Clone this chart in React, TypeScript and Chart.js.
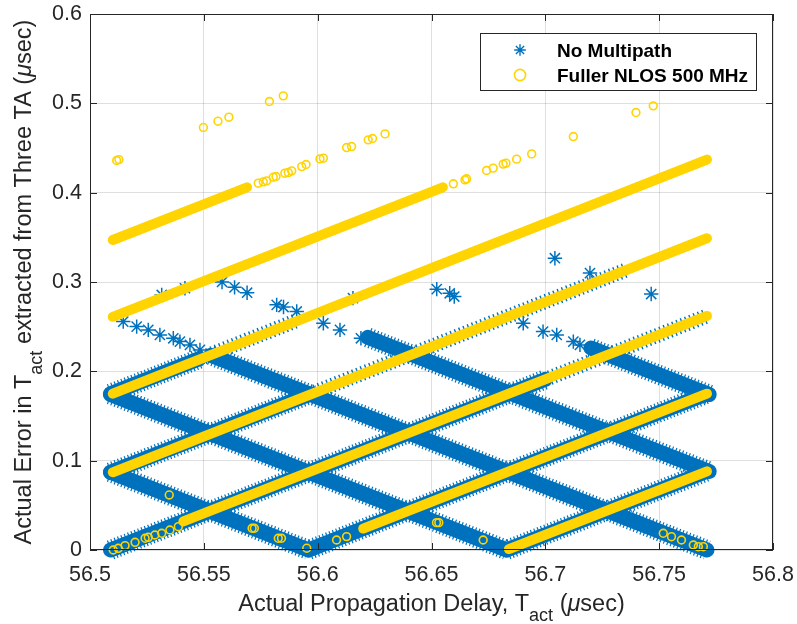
import React, { useEffect, useRef } from "react";
import { Chart, registerables } from "chart.js";

Chart.register(...registerables);

const BLUE = "#0072BD";
const GOLD = "#FFD400";
const INK = "#262626";
const FONT = '"Liberation Sans", Arial, Helvetica, sans-serif';

// Axis ticks
const xTickValues = [56.5, 56.55, 56.6, 56.65, 56.7, 56.75, 56.8];
const xTickLabels = ["56.5", "56.55", "56.6", "56.65", "56.7", "56.75", "56.8"];
const yTickValues = [0, 0.1, 0.2, 0.3, 0.4, 0.5, 0.6];
const yTickLabels = ["0", "0.1", "0.2", "0.3", "0.4", "0.5", "0.6"];

// A band of densely packed markers: [xStart, yStart, xEnd, yEnd]
type Band = [number, number, number, number];

// No Multipath — dense bands of error samples
const noMultipathBands: Band[] = [
  [56.509, 0.087, 56.596, 0.0],
  [56.509, 0.174, 56.683, 0.0],
  [56.553, 0.218, 56.771, 0.0],
  [56.622, 0.238, 56.772, 0.088],
  [56.72, 0.226, 56.772, 0.174],
  [56.509, 0.0, 56.7, 0.191],
  [56.596, 0.0, 56.771, 0.175],
  [56.683, 0.0, 56.771, 0.088],
  [56.509, 0.087, 56.597, 0.175],
  [56.509, 0.175, 56.548, 0.214],
];

// No Multipath — loosely packed bands
const noMultipathLooseBands: Band[] = [
  [56.7, 0.191, 56.771, 0.262],
  [56.597, 0.175, 56.735, 0.313],
  [56.548, 0.214, 56.59, 0.256],
];

// No Multipath — isolated samples
const noMultipathX = [
  56.5146, 56.5205, 56.5256, 56.5307, 56.5366, 56.5395, 56.5439, 56.5483,
  56.558, 56.5635, 56.569, 56.582, 56.585, 56.5908, 56.6025, 56.6098, 56.619,
  56.6523, 56.658, 56.66, 56.6903, 56.699, 56.705, 56.7123, 56.7152,
  56.5315, 56.5417, 56.6155, 56.7042, 56.7196, 56.7465,
];
const noMultipathY = [
  0.2557, 0.2501, 0.2464, 0.2408, 0.237, 0.2333, 0.2296, 0.224,
  0.3, 0.294, 0.288, 0.2744, 0.272, 0.267, 0.2538, 0.2464, 0.237,
  0.292, 0.2874, 0.2837, 0.2538, 0.2445, 0.2408, 0.2333, 0.2296,
  0.2855, 0.293, 0.282, 0.3266, 0.31, 0.2865,
];

// Fuller NLOS 500 MHz — dense bands
const fullerBands: Band[] = [
  [56.51, 0.347, 56.569, 0.406],
  [56.51, 0.261, 56.655, 0.406],
  [56.51, 0.175, 56.771, 0.437],
  [56.51, 0.087, 56.771, 0.349],
  [56.541, 0.032, 56.771, 0.262],
  [56.62, 0.024, 56.771, 0.175],
  [56.684, 0.001, 56.771, 0.088],
];

// Fuller NLOS 500 MHz — upper isolated samples
const fullerUpperX = [
  56.5117, 56.5127, 56.5498, 56.5562, 56.561, 56.5788, 56.5849,
  56.5739, 56.5761, 56.5776, 56.5805, 56.5817, 56.5856, 56.5871, 56.5886,
  56.593, 56.5949, 56.601, 56.6025, 56.6127, 56.6149, 56.6222, 56.6241, 56.6296,
  56.6596, 56.6647, 56.6654, 56.6742, 56.6771, 56.6815, 56.6827, 56.6874,
  56.694, 56.7123, 56.7398, 56.7474,
];
const fullerUpperY = [
  0.436, 0.437, 0.473, 0.48, 0.4845, 0.502, 0.5084,
  0.4106, 0.4121, 0.4132, 0.4173, 0.4181, 0.4218, 0.4225, 0.4244,
  0.4292, 0.4315, 0.4378, 0.4386, 0.4505, 0.4516, 0.4591, 0.4606, 0.4658,
  0.4099, 0.4143, 0.4155, 0.4248, 0.4275, 0.432, 0.433, 0.4375,
  0.4434, 0.4628, 0.4897, 0.4972,
];

// Fuller NLOS 500 MHz — lower isolated samples
const fullerLowerX = [
  56.5102, 56.5124, 56.5154, 56.5198, 56.5242, 56.5256, 56.5285, 56.5315,
  56.5351, 56.5388, 56.5952, 56.6083, 56.6127,
  56.5348, 56.5712, 56.5722, 56.5827, 56.5841, 56.6522, 56.6532, 56.6727,
  56.7518, 56.7554, 56.7598, 56.765, 56.7672, 56.7694,
];
const fullerLowerY = [
  0.0, 0.0019, 0.0049, 0.0086, 0.0131, 0.0142, 0.0168, 0.0187,
  0.0224, 0.0261, 0.002, 0.0112, 0.015,
  0.0616, 0.0243, 0.0243, 0.0131, 0.0131, 0.0306, 0.0306, 0.0112,
  0.0187, 0.0149, 0.0112, 0.0056, 0.0037, 0.0037,
];

const pts = (xs: number[], ys: number[]) => xs.map((x, i) => ({ x, y: ys[i] }));

const bandSet = (
  b: Band,
  color: string,
  width: number,
  order: number,
  dash: number[] = [],
  cap: string = "round"
) => ({
  data: [
    { x: b[0], y: b[1] },
    { x: b[2], y: b[3] },
  ],
  showLine: true,
  borderColor: color,
  borderWidth: width,
  borderCapStyle: cap,
  borderJoinStyle: "round",
  borderDash: dash,
  pointRadius: 0,
  pointHoverRadius: 0,
  clip: false,
  order,
});

type Part = { t: string; sub?: boolean; it?: boolean };

function drawRich(ctx: CanvasRenderingContext2D, parts: Part[], cx: number, baseline: number) {
  const fontOf = (p: Part) => `${p.it ? "italic " : ""}${p.sub ? 18 : 23.5}px ${FONT}`;
  let total = 0;
  const widths = parts.map((p) => {
    ctx.font = fontOf(p);
    const w = ctx.measureText(p.t).width;
    total += w;
    return w;
  });
  let x = cx - total / 2;
  ctx.textAlign = "left";
  ctx.textBaseline = "alphabetic";
  parts.forEach((p, i) => {
    ctx.font = fontOf(p);
    ctx.fillText(p.t, x, baseline + (p.sub ? 10.5 : 0));
    x += widths[i];
  });
}

const xTitle: Part[] = [
  { t: "Actual Propagation Delay, T" },
  { t: "act", sub: true },
  { t: " (" },
  { t: "\u03bc", it: true },
  { t: "sec)" },
];
const yTitle: Part[] = [
  { t: "Actual Error in T" },
  { t: "act", sub: true },
  { t: " extracted from Three TA (" },
  { t: "\u03bc", it: true },
  { t: "sec)" },
];

const framePlugin = {
  id: "frameAndTitles",
  afterDraw(chart: any) {
    const { ctx, chartArea: a, scales } = chart;
    ctx.save();
    ctx.strokeStyle = INK;
    ctx.lineWidth = 1;
    ctx.strokeRect(a.left + 0.5, a.top + 0.5, a.right - a.left - 1, a.bottom - a.top - 1);
    const tl = 7;
    ctx.beginPath();
    xTickValues.forEach((v) => {
      const px = Math.round(scales.x.getPixelForValue(v)) + 0.5;
      ctx.moveTo(px, a.bottom);
      ctx.lineTo(px, a.bottom - tl);
      ctx.moveTo(px, a.top);
      ctx.lineTo(px, a.top + tl);
    });
    yTickValues.forEach((v) => {
      const py = Math.round(scales.y.getPixelForValue(v)) + 0.5;
      ctx.moveTo(a.left, py);
      ctx.lineTo(a.left + tl, py);
      ctx.moveTo(a.right, py);
      ctx.lineTo(a.right - tl, py);
    });
    ctx.stroke();

    // axis titles
    ctx.fillStyle = INK;
    drawRich(ctx, xTitle, (a.left + a.right) / 2, 610.5);
    ctx.translate(31, (a.top + a.bottom) / 2);
    ctx.rotate(-Math.PI / 2);
    drawRich(ctx, yTitle, 0, 0);
    ctx.restore();

    // legend
    ctx.save();
    const lx = a.right - 293;
    const ly = a.top + 19;
    const lw = 276;
    const lh = 57;
    ctx.fillStyle = "#ffffff";
    ctx.fillRect(lx, ly, lw, lh);
    ctx.strokeStyle = INK;
    ctx.lineWidth = 1;
    ctx.strokeRect(lx + 0.5, ly + 0.5, lw, lh);
    const mx = lx + 40;
    const r1 = ly + 17;
    const r2 = ly + 42;
    ctx.strokeStyle = BLUE;
    ctx.lineWidth = 1.4;
    ctx.beginPath();
    const rs = 5.8;
    for (let k = 0; k < 4; k++) {
      const ang = (k * Math.PI) / 4;
      ctx.moveTo(mx - rs * Math.cos(ang), r1 - rs * Math.sin(ang));
      ctx.lineTo(mx + rs * Math.cos(ang), r1 + rs * Math.sin(ang));
    }
    ctx.stroke();
    ctx.strokeStyle = GOLD;
    ctx.lineWidth = 1.6;
    ctx.beginPath();
    ctx.arc(mx, r2, 5.6, 0, Math.PI * 2);
    ctx.stroke();
    ctx.fillStyle = "#000000";
    ctx.font = `bold 19px ${FONT}`;
    ctx.textAlign = "left";
    ctx.textBaseline = "alphabetic";
    ctx.fillText("No Multipath", lx + 77, r1 + 7);
    ctx.fillText("Fuller NLOS 500 MHz", lx + 77, r2 + 7);
    ctx.restore();
  },
};

export default function App() {
  const ref = useRef<HTMLCanvasElement>(null);

  useEffect(() => {
    if (!ref.current) return;
    const datasets: any[] = [];
    noMultipathBands.forEach((b) => {
      // ragged fringe of marker arms around a solid core
      datasets.push(bandSet(b, BLUE, 20, 7, [1.2, 2.4], "butt"));
      datasets.push(bandSet(b, BLUE, 15, 6));
    });
    noMultipathLooseBands.forEach((b) => {
      datasets.push(bandSet(b, BLUE, 15, 6, [1.4, 3.2], "butt"));
    });
    datasets.push({
      data: pts(noMultipathX, noMultipathY),
      pointStyle: "star",
      pointRadius: 7.2,
      pointBorderWidth: 1.5,
      borderColor: BLUE,
      backgroundColor: BLUE,
      showLine: false,
      clip: false,
      order: 5,
    });
    fullerBands.forEach((b) => datasets.push(bandSet(b, GOLD, 10, 2)));
    [pts(fullerUpperX, fullerUpperY), pts(fullerLowerX, fullerLowerY)].forEach((d) =>
      datasets.push({
        data: d,
        pointStyle: "circle",
        pointRadius: 3.9,
        pointBorderWidth: 1.6,
        borderColor: GOLD,
        backgroundColor: "rgba(0,0,0,0)",
        showLine: false,
        clip: false,
        order: 1,
      })
    );

    const chart = new Chart(ref.current, {
      type: "scatter",
      data: { datasets },
      options: {
        responsive: false,
        animation: false,
        devicePixelRatio: 1,
        layout: { padding: { top: 14, right: 24, left: 0, bottom: 0 } },
        plugins: { legend: { display: false }, tooltip: { enabled: false } },
        events: [],
        scales: {
          x: {
            type: "linear",
            min: 56.5,
            max: 56.8,
            afterBuildTicks: (s: any) => {
              s.ticks = xTickValues.map((v) => ({ value: v }));
            },
            afterFit: (s: any) => {
              s.height = 74;
              s.paddingLeft = 0;
              s.paddingRight = 0;
            },
            ticks: {
              autoSkip: false,
              maxRotation: 0,
              padding: 12,
              color: INK,
              font: { family: FONT, size: 21.5 },
              callback: (_v: any, i: number) => xTickLabels[i],
            },
            grid: { color: "rgba(38,38,38,0.15)", drawTicks: false, lineWidth: 1 },
            border: { display: false },
          },
          y: {
            type: "linear",
            min: 0,
            max: 0.6,
            afterBuildTicks: (s: any) => {
              s.ticks = yTickValues.map((v) => ({ value: v }));
            },
            afterFit: (s: any) => {
              s.width = 90;
              s.paddingTop = 0;
              s.paddingBottom = 0;
            },
            ticks: {
              autoSkip: false,
              padding: 8,
              color: INK,
              font: { family: FONT, size: 21.5 },
              callback: (_v: any, i: number) => yTickLabels[i],
            },
            grid: { color: "rgba(38,38,38,0.15)", drawTicks: false, lineWidth: 1 },
            border: { display: false },
          },
        },
      },
      plugins: [framePlugin],
    } as any);
    return () => chart.destroy();
  }, []);

  return (
    <div style={{ position: "fixed", left: 0, top: 0, width: 797, height: 624, background: "#fff" }}>
      <canvas ref={ref} width={797} height={624} style={{ display: "block" }} />
    </div>
  );
}
